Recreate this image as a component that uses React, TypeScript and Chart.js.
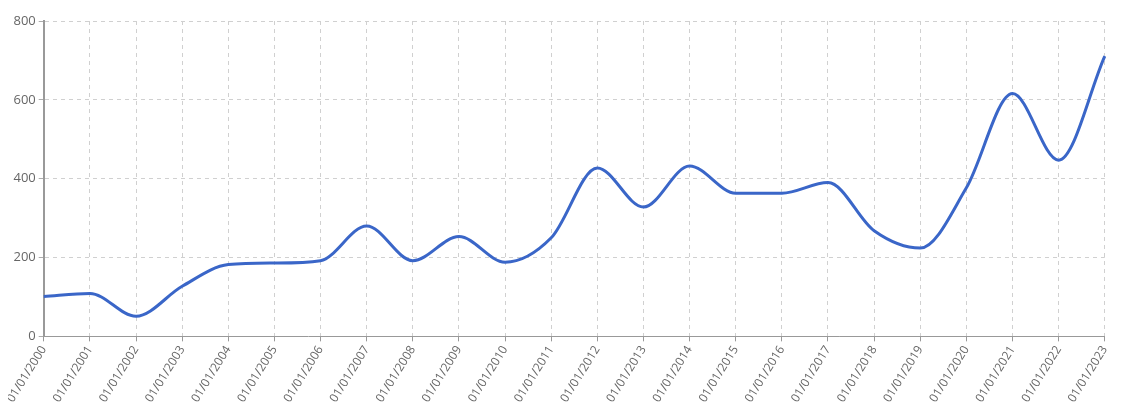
import React, { useEffect, useRef } from "react";
import { Chart, registerables } from "chart.js";

Chart.register(...registerables);

const categories = [
  "01/01/2000", "01/01/2001", "01/01/2002", "01/01/2003", "01/01/2004", "01/01/2005",
  "01/01/2006", "01/01/2007", "01/01/2008", "01/01/2009", "01/01/2010", "01/01/2011",
  "01/01/2012", "01/01/2013", "01/01/2014", "01/01/2015", "01/01/2016", "01/01/2017",
  "01/01/2018", "01/01/2019", "01/01/2020", "01/01/2021", "01/01/2022", "01/01/2023",
];

const seriesValues = [
  101, 109, 51, 127, 182, 186, 192, 280, 192, 253, 188, 250,
  427, 328, 432, 363, 363, 390, 268, 224, 377, 616, 447, 711,
];

const yTicks = [0, 200, 400, 600, 800];

export default function App() {
  const ref = useRef<HTMLCanvasElement | null>(null);
  useEffect(() => {
    if (!ref.current) return;
    document.documentElement.style.overflow = "hidden";
    const chart = new Chart(ref.current, {
      type: "line",
      data: {
        labels: categories,
        datasets: [
          {
            data: seriesValues,
            borderColor: "#3a66c8",
            borderWidth: 3,
            pointRadius: 0,
            fill: false,
            cubicInterpolationMode: "monotone",
          },
        ],
      },
      options: {
        animation: false,
        responsive: true,
        maintainAspectRatio: false,
        layout: { padding: { top: 13, right: 10, left: 0, bottom: 0 } },
        plugins: { legend: { display: false }, tooltip: { enabled: false } },
        scales: {
          x: {
            grid: {
              color: "#d0d0d0",
              tickColor: "#999",
              tickLength: 5,
              tickBorderDash: [1, 0],
            } as any,
            border: { color: "#999", width: 1, dash: [4, 4] },
            ticks: {
              color: "#666",
              font: { family: "'Open Sans', sans-serif", size: 12 },
              maxRotation: 58,
              minRotation: 58,
              autoSkip: false,
              padding: 2,
            },
          },
          y: {
            min: 0,
            max: 800,
            afterBuildTicks: (axis: any) => {
              axis.ticks = yTicks.map((v) => ({ value: v }));
            },
            grid: {
              color: "#d0d0d0",
              tickColor: "#999",
              tickLength: 5,
              tickBorderDash: [1, 0],
            } as any,
            border: { color: "#999", width: 2, dash: [4, 4] },
            ticks: {
              color: "#666",
              font: { family: "'Open Sans', sans-serif", size: 13 },
              padding: 3,
            },
          },
        },
      },
    });
    return () => chart.destroy();
  }, []);
  return (
    <div style={{ width: 1111, height: 399, position: "relative" }}>
      <canvas ref={ref} />
    </div>
  );
}
